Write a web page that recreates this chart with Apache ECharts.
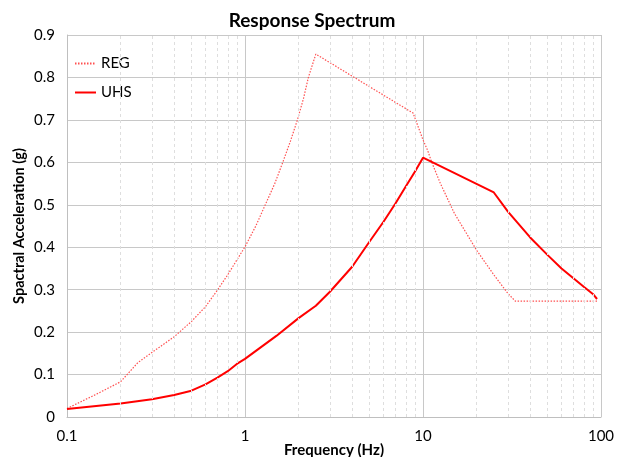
<!DOCTYPE html>
<html>
<head>
<meta charset="utf-8">
<script src="https://cdn.jsdelivr.net/npm/echarts@6/dist/echarts.min.js"></script>
<style>
  html, body { margin: 0; padding: 0; background: #fff; }
  #chart { width: 624px; height: 457px; }
</style>
</head>
<body>
<div id="chart"></div>
<script>
var regFreq = [0.1, 0.15, 0.2, 0.25, 0.3, 0.4, 0.5, 0.6, 0.7, 0.8, 0.9, 1.0, 1.15, 1.3, 1.47, 1.63, 1.8, 1.97, 2.13, 2.27, 2.5,
               8.8, 10, 10.6, 11.2, 12.5, 15, 20, 25, 30, 33, 95];
var regAcc  = [0.02, 0.056, 0.083, 0.128, 0.152, 0.189, 0.225, 0.26, 0.299, 0.335, 0.37, 0.401, 0.45, 0.50, 0.55, 0.60, 0.65, 0.70, 0.75, 0.80, 0.855,
               0.716, 0.653, 0.629, 0.60, 0.551, 0.48, 0.393, 0.335, 0.291, 0.273, 0.273];

var uhsFreq = [0.1, 0.2, 0.3, 0.4, 0.5, 0.6, 0.7, 0.8, 0.9, 1.0, 1.5, 2.0, 2.5, 3, 4, 5, 6, 7, 8, 9, 10,
               25, 30, 40, 50, 60, 70, 80, 90, 95];
var uhsAcc  = [0.019, 0.032, 0.042, 0.052, 0.062, 0.077, 0.093, 0.108, 0.125, 0.137, 0.191, 0.233, 0.262, 0.295, 0.354, 0.413, 0.46, 0.503, 0.543, 0.578, 0.611,
               0.529, 0.484, 0.423, 0.382, 0.35, 0.327, 0.307, 0.29, 0.278];

var decades = [0.1, 1, 10];
var minorSteps = [2, 3, 4, 5, 6, 7, 8, 9];

function pairs(xs, ys) {
  return xs.map(function (x, i) { return [x, ys[i]]; });
}

var minorLines = [];
decades.forEach(function (d) {
  minorSteps.forEach(function (k) {
    minorLines.push({ xAxis: +(k * d).toPrecision(3) });
  });
});

var FONT = 'Lato';

var myChart = echarts.init(document.getElementById('chart'));

var option = {
  backgroundColor: '#ffffff',
  animation: false,
  textStyle: { fontFamily: FONT },
  title: {
    text: 'Response Spectrum',
    left: 'center',
    top: 6,
    textStyle: { fontFamily: FONT, fontSize: 19, fontWeight: 'bold', color: '#000' }
  },
  legend: {
    data: [
      { name: 'REG' },
      { name: 'UHS' }
    ],
    orient: 'vertical',
    left: 69,
    top: 51,
    itemWidth: 21,
    itemHeight: 10,
    itemGap: 14,
    itemStyle: { opacity: 0 },
    textStyle: { fontFamily: FONT, fontSize: 15, color: '#000' }
  },
  grid: {
    left: 67,
    right: 23,
    top: 35,
    bottom: 40,
    containLabel: false,
    outerBoundsMode: 'none'
  },
  xAxis: {
    type: 'log',
    logBase: 10,
    min: 0.1,
    max: 100,
    name: 'Frequency (Hz)',
    nameLocation: 'middle',
    nameGap: 26,
    nameMoveOverlap: false,
    nameTextStyle: { fontFamily: FONT, fontSize: 15, fontWeight: 'bold', color: '#000' },
    axisLine: { show: true, lineStyle: { color: '#bfbfbf' } },
    axisTick: { show: false },
    axisLabel: { fontFamily: FONT, fontSize: 15, color: '#000', margin: 12 },
    splitLine: { show: true, lineStyle: { color: '#c8c8c8', width: 1 } }
  },
  yAxis: {
    type: 'value',
    min: 0,
    max: 0.9,
    interval: 0.1,
    name: 'Spactral Acceleration (g)',
    nameLocation: 'middle',
    nameGap: 40,
    nameMoveOverlap: false,
    nameTextStyle: { fontFamily: FONT, fontSize: 14.5, fontWeight: 'bold', color: '#000' },
    axisLine: { show: true, lineStyle: { color: '#bfbfbf' } },
    axisTick: { show: false },
    axisLabel: { fontFamily: FONT, fontSize: 15, color: '#000', margin: 12 },
    splitLine: { show: true, lineStyle: { color: '#c8c8c8', width: 1 } }
  },
  series: [
    {
      // minor vertical grid lines 2..9 of each decade
      name: 'minor',
      type: 'line',
      data: [],
      z: 1,
      silent: true,
      markLine: {
        silent: true,
        symbol: 'none',
        label: { show: false },
        lineStyle: { color: '#dedede', type: [3, 3], width: 1 },
        data: minorLines
      }
    },
    {
      name: 'REG',
      type: 'line',
      data: pairs(regFreq, regAcc),
      showSymbol: false,
      symbol: 'none',
      z: 3,
      color: '#ff5050',
      lineStyle: { color: '#ff5050', width: 1.2, type: [1.5, 1.5] }
    },
    {
      name: 'UHS',
      type: 'line',
      data: pairs(uhsFreq, uhsAcc),
      showSymbol: false,
      symbol: 'none',
      z: 4,
      color: '#ff0000',
      lineStyle: { color: '#ff0000', width: 2 }
    }
  ]
};

myChart.setOption(option);

window.onresize = function () {
  myChart.resize();
};
</script>
</body>
</html>
